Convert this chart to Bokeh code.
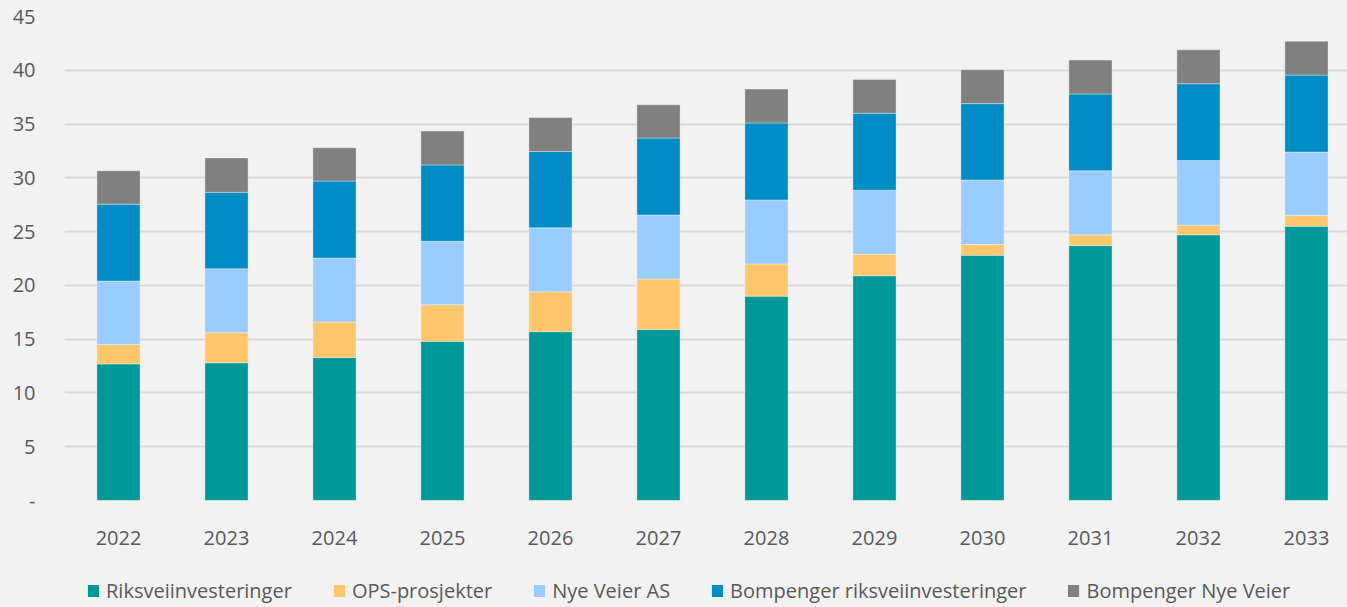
from bokeh.plotting import figure
from bokeh.layouts import column
from bokeh.models import ColumnDataSource, Range1d, FixedTicker, Legend, LegendItem
from bokeh.embed import file_html
from bokeh.resources import INLINE

years = [2022, 2023, 2024, 2025, 2026, 2027, 2028, 2029, 2030, 2031, 2032, 2033]
riksvei = [12.7, 12.8, 13.3, 14.8, 15.7, 15.9, 19.0, 20.9, 22.8, 23.7, 24.7, 25.5]
ops = [1.8, 2.8, 3.3, 3.4, 3.7, 4.7, 3.0, 2.0, 1.0, 1.0, 0.9, 1.0]
nye_veier = [5.9, 5.95, 5.95, 5.9, 5.95, 5.95, 5.95, 5.95, 6.0, 5.95, 6.0, 5.9]
bom_riks = [7.15, 7.1, 7.15, 7.1, 7.1, 7.15, 7.15, 7.15, 7.1, 7.15, 7.15, 7.15]
bom_nye = [3.1, 3.2, 3.1, 3.15, 3.15, 3.1, 3.15, 3.15, 3.15, 3.15, 3.15, 3.15]
y_ticks = [0, 5, 10, 15, 20, 25, 30, 35, 40, 45]

series_names = ["Riksveiinvesteringer", "OPS-prosjekter", "Nye Veier AS",
                "Bompenger riksveiinvesteringer", "Bompenger Nye Veier"]
series_keys = ["riksvei", "ops", "nye_veier", "bom_riks", "bom_nye"]
colors = ["#009999", "#FFC66B", "#99CCFF", "#008CC4", "#808080"]

source = ColumnDataSource(dict(year=years, riksvei=riksvei, ops=ops,
                               nye_veier=nye_veier, bom_riks=bom_riks, bom_nye=bom_nye))

FONT = "Open Sans"
TXT = "#595959"
BG = "#F2F2F2"

# main chart
p = figure(width=1347, height=560, output_backend="svg", toolbar_location=None,
           x_range=Range1d(2021.5, 2033.38), y_range=Range1d(0, 45),
           min_border_left=64, min_border_right=0, min_border_top=16, min_border_bottom=60)
p.background_fill_color = BG
p.border_fill_color = BG
p.outline_line_color = None

p.vbar_stack(series_keys, x="year", width=0.4, color=colors, source=source,
             line_color="white", line_alpha=0.35, line_width=1)

p.xgrid.grid_line_color = None
p.ygrid.grid_line_color = "#D9D9D9"
p.ygrid.grid_line_width = 2
p.ygrid.ticker = FixedTicker(ticks=y_ticks)

p.xaxis.ticker = FixedTicker(ticks=years)
p.yaxis.ticker = FixedTicker(ticks=y_ticks)
p.yaxis.major_label_overrides = {0: "-"}
for ax in (p.xaxis[0], p.yaxis[0]):
    ax.axis_line_color = None
    ax.major_tick_line_color = None
    ax.minor_tick_line_color = None
    ax.major_tick_out = 0
    ax.major_tick_in = 0
    ax.major_label_text_font = FONT
    ax.major_label_text_font_size = "20px"
    ax.major_label_text_color = TXT
p.xaxis.major_label_standoff = 30
p.yaxis.major_label_standoff = 29

# legend strip below the chart
lg = figure(width=1347, height=47, output_backend="svg", toolbar_location=None,
            x_range=Range1d(0, 1), y_range=Range1d(0, 1),
            x_axis_location=None, y_axis_location=None,
            min_border_left=64, min_border_right=0, min_border_top=0, min_border_bottom=0)
lg.background_fill_color = BG
lg.border_fill_color = BG
lg.outline_line_color = None
lg.grid.grid_line_color = None
legend_renderers = lg.vbar_stack(series_keys, x="year", width=0.4, color=colors, source=source,
                                 line_color=None)

legend = Legend(items=[LegendItem(label=n, renderers=[r]) for n, r in zip(series_names, legend_renderers)],
                location=(22, 3), orientation="horizontal",
                glyph_width=14, glyph_height=15, label_standoff=6, spacing=40,
                padding=0, margin=0,
                label_text_font=FONT, label_text_font_size="20px", label_text_color=TXT,
                background_fill_alpha=0, border_line_alpha=0)
lg.add_layout(legend, "center")

layout = column(p, lg, spacing=0, styles={"background-color": BG})
open("out.html", "w").write(file_html(layout, INLINE))
